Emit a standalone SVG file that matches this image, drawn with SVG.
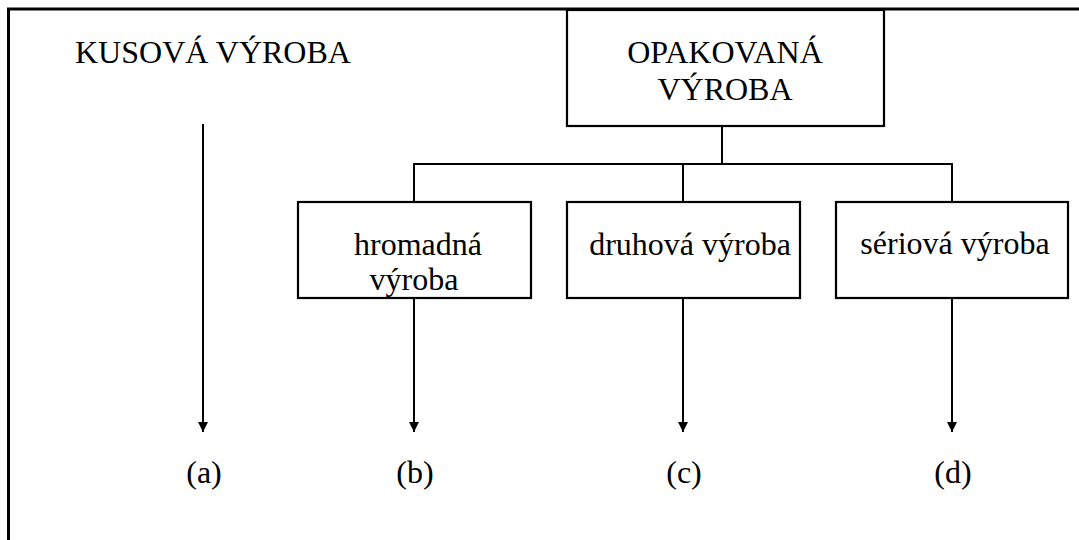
<svg xmlns="http://www.w3.org/2000/svg" width="1079" height="540" viewBox="0 0 1079 540">
<style>
text{font-family:"Liberation Serif","Times New Roman",serif;font-size:32px;fill:#000}
.box{fill:#fff;stroke:#000;stroke-width:2.2}
.ln{fill:none;stroke:#000;stroke-width:2}
</style>
<defs>
<marker id="ah" viewBox="0 0 10 10" refX="10" refY="5" markerWidth="10" markerHeight="10" markerUnits="userSpaceOnUse" orient="auto">
<path d="M0,0 L10,5 L0,10 Z" fill="#000"/>
</marker>
</defs>
<rect width="1079" height="540" fill="#fff"/>
<path d="M8.5,540 V9 H1079" fill="none" stroke="#000" stroke-width="3"/>
<g id="connectors">
<path class="ln" d="M722,126 V164 M414,203 V164 H952 V203 M683,164 V203"/>
<path class="ln" d="M203,124 V432" marker-end="url(#ah)"/>
<path class="ln" d="M414,298 V432" marker-end="url(#ah)"/>
<path class="ln" d="M683,298 V432" marker-end="url(#ah)"/>
<path class="ln" d="M952,298 V432" marker-end="url(#ah)"/>
</g>
<g id="kusova">
<text x="75" y="63">KUSOVÁ VÝROBA</text>
</g>
<g id="opakovana">
<rect class="box" x="567" y="10" width="317" height="116"/>
<text x="725" y="63" text-anchor="middle">OPAKOVANÁ</text>
<text x="725" y="100" text-anchor="middle">VÝROBA</text>
</g>
<g id="hromadna">
<rect class="box" x="298" y="202" width="233" height="96"/>
<text x="418" y="255" text-anchor="middle">hromadná</text>
<text x="414" y="290" text-anchor="middle">výroba</text>
</g>
<g id="druhova">
<rect class="box" x="567" y="202" width="233" height="96"/>
<text x="690" y="255" text-anchor="middle">druhová výroba</text>
</g>
<g id="seriova">
<rect class="box" x="836" y="202" width="232" height="96"/>
<text x="955" y="254" text-anchor="middle">sériová výroba</text>
</g>
<g id="labels">
<text x="204" y="483" text-anchor="middle">(a)</text>
<text x="415" y="483" text-anchor="middle">(b)</text>
<text x="684" y="483" text-anchor="middle">(c)</text>
<text x="953" y="483" text-anchor="middle">(d)</text>
</g>
</svg>
